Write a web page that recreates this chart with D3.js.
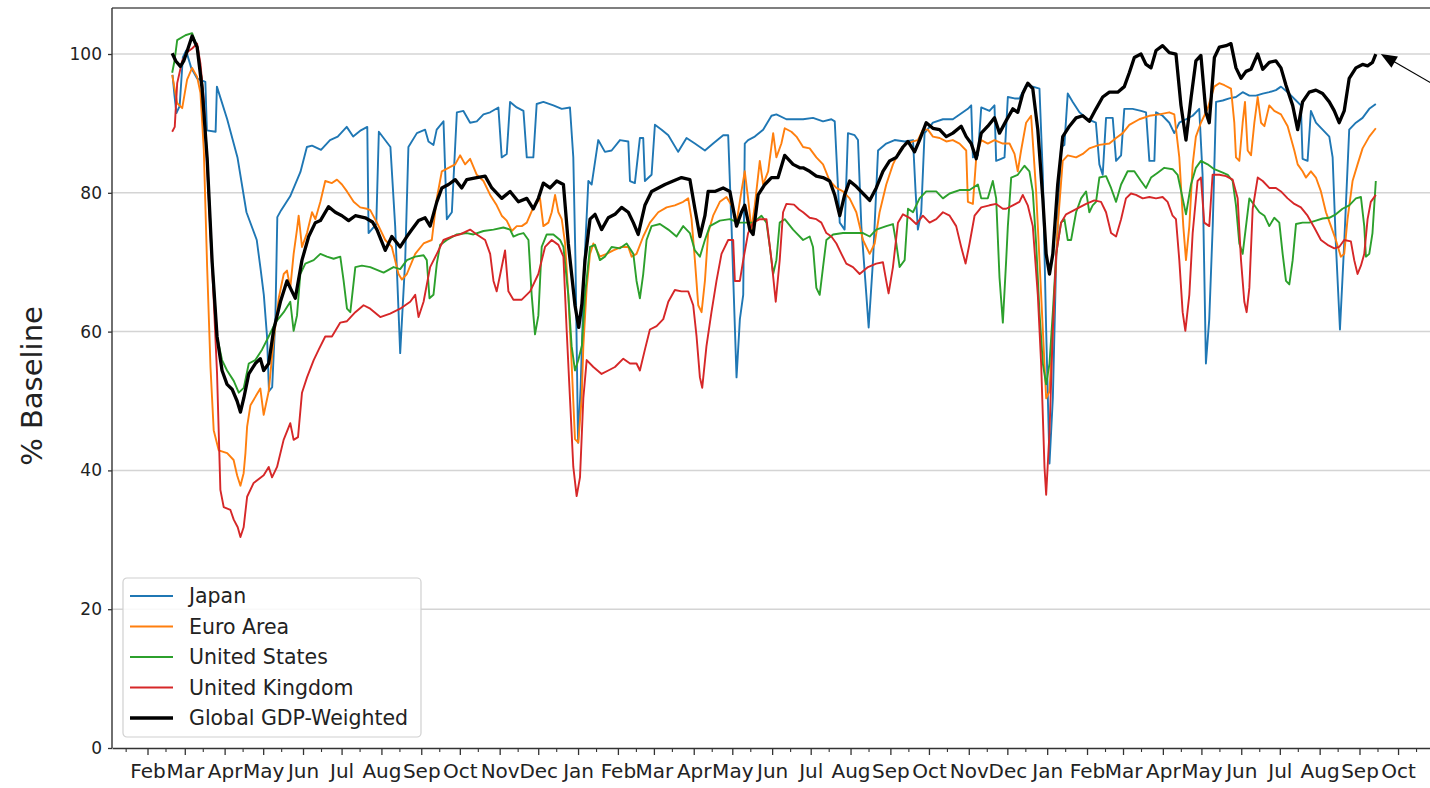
<!DOCTYPE html>
<html>
<head>
<meta charset="utf-8">
<script src="https://cdn.jsdelivr.net/npm/d3@7"></script>
<style>
  body { margin: 0; background: #fff; }
  svg { display: block; font-family: "DejaVu Sans", sans-serif; }
</style>
</head>
<body>
<div id="chart"></div>
<script>
// each point is [day, value]: day = days after 1 Feb 2020, value = % of baseline
var japan = [
  [19.5, 97], [21, 94], [22.5, 91.5], [25, 92.5], [27.5, 99.5], [30, 100.5], [34, 98], [38.5, 96.5], [45, 96], [46.2, 89],
  [53, 88.8], [54, 95.3], [62, 90.6], [70, 85.1], [77, 77.2], [85, 73.2], [88, 69], [90.5, 65.3], [93, 59.3], [94.5, 51.4],
  [97, 52], [99.5, 62], [101, 76.5], [104, 77.5], [111, 79.5], [119, 83], [124, 86.6], [128, 86.8], [135, 86.2], [142, 87.6],
  [148, 88.1], [155, 89.5], [160, 88.1], [166, 89], [171, 89.5], [172, 74.2], [178, 75.5], [180, 88.8], [189, 86.6], [192.7, 75.2],
  [196.6, 56.9], [200.5, 70.3], [203, 86.6], [209.6, 88.6], [216, 89.1], [218.6, 87.4], [222.5, 86.9], [225, 89.1], [230.3, 90.3], [232.9, 76.2],
  [236.8, 77.2], [240.7, 91.6], [245.8, 91.8], [251, 90.1], [256.2, 90.3], [261.4, 91.3], [266.6, 91.6], [273, 92.3], [275.6, 85.1], [279.5, 85.6],
  [282.1, 93.1], [287.3, 92.3], [292.5, 91.8], [295.1, 85.1], [300.2, 85.1], [302.8, 92.8], [308, 93.1], [315.8, 92.6], [322.3, 92.1], [328.7, 92.3],
  [331.3, 85.1], [333, 70], [335, 44], [337, 52], [340, 70], [343, 81.7], [345.6, 81.2], [350.7, 87.6], [355.9, 85.9], [361.1, 86.1],
  [367.6, 87.6], [374.1, 87.4], [375.4, 81.7], [379.2, 81.4], [383.1, 87.9], [385.7, 87.9], [387, 81.7], [392.2, 82.6], [394.8, 89.8], [400, 89.1],
  [405.2, 88.3], [412.9, 85.9], [419.4, 87.9], [425.9, 87.1], [433.7, 86.1], [440.1, 87.1], [447.9, 88.3], [451.8, 88.3], [454.4, 75.2], [458.3, 53.4],
  [460.9, 61.8], [463.5, 65.3], [464.7, 87.1], [467.3, 87.6], [472.5, 88.1], [479, 89.1], [485.5, 91.1], [489.3, 91.3], [497.1, 90.6], [503.6, 90.6],
  [510.1, 90.6], [517.8, 90.8], [525.6, 90.3], [532.1, 90.6], [534.7, 90.3], [538.6, 75.7], [542.4, 74.7], [545, 88.6], [550.2, 88.3], [552.8, 87.6],
  [555.4, 75.2], [559.3, 65.3], [561.1, 60.6], [564.5, 70.3], [568.4, 86.1], [574.8, 87.1], [581.3, 87.6], [589.1, 87.4], [595.6, 87.6], [597.6, 80.2],
  [599.4, 74.7], [602, 77.2], [604.6, 88.6], [611.1, 90.1], [618.9, 90.6], [626.6, 90.6], [634.4, 91.6], [638.3, 92.1], [640.9, 92.6], [642.2, 85.1],
  [646.1, 85.4], [648.7, 92.3], [655.1, 91.8], [659, 92.6], [660.3, 84.6], [664.2, 84.9], [666.8, 85.1], [669.4, 93.8], [674.6, 93.6], [678.4, 93.6],
  [683.6, 95.5], [688.8, 95.3], [694, 95], [696.6, 82.6], [699.2, 60.3], [701.8, 41], [704.4, 50.4], [707, 70.3], [710.8, 86.6], [713.4, 86.9],
  [716, 94.3], [719.9, 93.1], [725.1, 91.6], [731.4, 90.6], [737.9, 90.1], [740.6, 84.1], [743.2, 82.6], [745.8, 90.8], [751, 90.8], [753.6, 84.6],
  [757.5, 85.4], [760, 92.1], [766.5, 92.1], [773, 91.8], [776.9, 91.6], [779.5, 84.6], [783.4, 84.6], [784.7, 91.6], [789.8, 91.1], [795, 90.1],
  [798.9, 88.6], [802.8, 90.1], [808, 90.6], [813.2, 91.1], [818.3, 92.1], [820.9, 82.6], [823.5, 55.4], [826.1, 61.8], [828.8, 75.2], [831.4, 93.1],
  [836.6, 93.3], [841.7, 93.6], [846.9, 93.8], [852.1, 94.5], [857.3, 94], [862.5, 94], [867.7, 94.3], [872.8, 94.5], [878, 94.8], [881.9, 95.3],
  [887.1, 94.5], [893.6, 93.3], [897.4, 92.6], [898.7, 84.9], [902.6, 84.6], [905.2, 91.8], [909.1, 90.1], [914.3, 89.1], [919.5, 88.1], [922.1, 85.1],
  [924.6, 72.7], [927.8, 60.3], [931.1, 72.7], [935, 89.1], [940.2, 90.1], [945.4, 90.8], [950.6, 92.1], [955.7, 92.8]
];

var euroArea = [
  [19.2, 97], [23.1, 92.9], [27, 92.2], [30.8, 96.3], [34.7, 98], [38.6, 96.7], [41.2, 94.4], [43.8, 86.2], [46.4, 69.3], [49, 54.9],
  [51.5, 45.8], [55.4, 42.9], [62, 42.5], [67, 41.5], [69.7, 39.3], [72.3, 37.8], [74.8, 39.6], [76.2, 42.5], [77.5, 46.3], [80.1, 49.4],
  [85.2, 51], [87.8, 51.8], [90.4, 48], [94.3, 51.4], [98.2, 58.9], [102.1, 64.8], [106, 68.3], [108.5, 68.8], [111.1, 66.3], [113.7, 71.2],
  [116.3, 74.7], [117.6, 76.7], [120.2, 72.2], [124.1, 74.2], [128, 77.2], [130.6, 76.2], [134.5, 78.7], [138.3, 81.7], [143.5, 81.4], [147.4, 81.9],
  [151.3, 81.2], [155.2, 80.2], [160.4, 78.7], [165.5, 77.9], [170.7, 77.7], [173.3, 77.5], [178.5, 75.7], [185, 73.2], [190.1, 72.2], [195.3, 68.3],
  [197.9, 67.5], [201.8, 68.3], [208.3, 71.2], [214.8, 72.7], [221.2, 73.2], [225.1, 79.2], [229, 83.1], [234.2, 83.6], [239.4, 84.1], [243.2, 85.4],
  [247.1, 84.1], [251, 84.9], [256.2, 82.6], [261.4, 81.7], [266.6, 79.7], [271.7, 78.2], [275.6, 76.7], [279.5, 76], [283.4, 74.5], [287.3, 75.2],
  [291.2, 75.2], [295.1, 75.7], [300.2, 77.9], [305.4, 79.2], [308, 75.2], [311.9, 75.7], [314.5, 77.2], [317.1, 79.7], [319.7, 77.2], [322.3, 76.2],
  [324.9, 72.7], [327.4, 65.3], [330, 55.4], [332.6, 44.5], [335.2, 44], [337.8, 50.4], [339.1, 57.9], [341.7, 66.3], [344.3, 71.2], [346.9, 72.7],
  [352, 70.8], [357.2, 71.2], [362.4, 71.7], [368.9, 72.2], [374.1, 72.2], [376.7, 70.8], [380.5, 71.2], [385.7, 73.7], [390.9, 75.7], [397.4, 77.2],
  [403.9, 77.9], [410.3, 78.2], [416.8, 78.7], [420.7, 79.2], [423.3, 76.2], [425.9, 70.3], [428.5, 63.8], [431.1, 62.8], [433.7, 67.3], [436.2, 74.2],
  [440.1, 76.7], [445.3, 78.7], [450.5, 79.4], [454.4, 78.2], [458.3, 75.7], [462.1, 80.2], [464.7, 83.1], [467.3, 79.2], [469.9, 74.7], [472.5, 78.2],
  [476.4, 84.6], [479, 81.2], [482.9, 83.1], [486.8, 88.6], [489.3, 85.1], [493.2, 87.1], [495.8, 89.3], [501, 88.8], [504.9, 88.1], [510.1, 86.6],
  [515.2, 86.4], [520.4, 85.1], [525.6, 84.1], [530.8, 81.7], [536, 80.7], [541.1, 80.2], [546.3, 79.2], [551.5, 77.2], [556.7, 73.2], [561.9, 71.2],
  [565.8, 72.7], [569.6, 77.2], [574.8, 81.2], [580, 84.1], [585.2, 86.1], [590.4, 87.1], [595.6, 87.4], [599.4, 87.6], [603.3, 89.1], [607.2, 89.1],
  [611.1, 88.1], [616.3, 87.9], [621.5, 87.4], [626.6, 87.6], [631.8, 87.1], [637, 86.1], [638.3, 78.7], [642.2, 78.4], [644.8, 85.1], [648.7, 87.6],
  [653.8, 87.1], [659, 87.6], [665.5, 87.1], [670.7, 87.1], [674.6, 85.6], [677.1, 83.1], [679.7, 86.1], [683.6, 90.1], [687.5, 91.1], [691.4, 80.2],
  [694, 70.3], [696.6, 60.3], [699.2, 50.4], [701.8, 51.4], [704.4, 60.3], [708.2, 75.2], [712.1, 84.6], [716, 85.4], [722.5, 85.1], [727.7, 85.6],
  [732.8, 86.4], [740.6, 86.9], [748.4, 87.1], [753.6, 87.9], [758.8, 88.6], [763.9, 89.8], [771.7, 90.6], [779.5, 91.1], [787.3, 91.3], [795, 91.6],
  [798.9, 91.3], [802.8, 85.1], [805.9, 75.2], [808, 70.3], [810.6, 75.2], [813.2, 84.1], [815.7, 88.1], [819.6, 90.1], [824.8, 92.1], [830, 95.3],
  [833.9, 95.8], [837.9, 95.5], [843, 95], [845.6, 90.1], [846.9, 85.1], [849.5, 84.6], [852.1, 90.1], [853.9, 93.1], [856, 86.1], [858.6, 85.4],
  [861.2, 90.1], [863.8, 93.8], [866.4, 90.1], [869, 89.6], [872.8, 92.6], [876.7, 91.8], [881.9, 91.3], [887.1, 89.6], [892.3, 86.1], [894.9, 84.1],
  [898.7, 83.1], [901.3, 82.2], [905.2, 83.1], [909.1, 82.2], [913, 80.2], [916.9, 77.2], [920.8, 75.2], [924.6, 73.2], [928.5, 70.8], [931.1, 71.2],
  [933.7, 76.2], [937.6, 81.7], [941.5, 84.1], [945.4, 86.4], [950.6, 88.1], [955.7, 89.3]
];

var unitedStates = [
  [19.2, 97.3], [21, 99], [23.1, 102], [29.5, 102.7], [34.7, 103], [38.6, 101], [42.5, 96], [46.4, 85.1], [50.3, 70.3], [54.1, 59.3],
  [58, 55.9], [61.9, 54.4], [67.1, 52.9], [71, 51.2], [74.9, 51.9], [78.8, 55.4], [83.9, 55.9], [89.1, 57.4], [94.3, 59.3], [99.5, 61.3],
  [106, 62.8], [111.1, 64.3], [113.7, 60.1], [116.3, 62.3], [118.9, 68.3], [122.8, 69.8], [129.3, 70.3], [134.5, 71.2], [139.6, 70.8], [144.8, 70.5],
  [150, 70.8], [152.6, 67.3], [155.2, 63.3], [157.8, 62.8], [161.7, 69.3], [166.8, 69.5], [173.3, 69.3], [183.7, 68.5], [191.4, 69.3], [196.6, 69],
  [201.8, 70.3], [208.3, 70.8], [214.8, 71], [217.3, 70.3], [219.4, 64.8], [222.5, 65.3], [225.1, 69.8], [227.7, 72.5], [232.9, 73.2], [240.7, 74],
  [248.4, 74.2], [253.6, 74], [261.4, 74.5], [269.2, 74.7], [276.9, 75], [282.1, 74.7], [284.7, 73.7], [288.6, 74], [292.5, 74.2], [296.4, 73.2],
  [298.9, 65.3], [301.5, 59.6], [304.1, 62.3], [306.7, 72.2], [310.6, 74], [315.8, 74], [321, 73.2], [323.6, 72.2], [327.4, 65.3], [330, 57.9],
  [332.6, 54.4], [335.2, 55.9], [338, 58], [340.4, 65.3], [344.3, 72.2], [348.2, 72.5], [352, 70.3], [355.9, 70.8], [361.1, 72.2], [367.6, 72],
  [372.8, 72.7], [378, 71.2], [380.5, 67.3], [383.1, 64.8], [385.7, 68.3], [388.3, 73.2], [392.2, 75.2], [398.7, 75.5], [405.2, 74.7], [411.6, 73.7],
  [416.8, 75.2], [422, 74.2], [425.9, 71.7], [429.8, 70.8], [433.7, 73.2], [437.5, 75.2], [445.3, 76], [453.1, 76.2], [459.6, 75.7], [466, 75.7],
  [471.2, 75.7], [477.7, 76.7], [481.6, 75.7], [484.2, 72.2], [486.8, 68.3], [489.3, 70.3], [491.9, 75.7], [495.8, 76.2], [502.3, 74.7], [504.9, 74.2],
  [510.1, 73.2], [515.2, 73.7], [517.8, 72.2], [520.4, 66.3], [523, 65.3], [525.6, 69.3], [528.2, 73.2], [533.4, 74], [541.1, 74.2], [548.9, 74.2],
  [556.7, 74.2], [561.9, 73.7], [567, 74.7], [574.8, 75.2], [580, 75.5], [582.6, 72.7], [585.2, 69.3], [589.1, 70.3], [591.7, 77.7], [595.6, 77.2],
  [600.7, 79.2], [605.9, 80.2], [613.7, 80.2], [618.9, 79.2], [624.1, 79.9], [631.8, 80.4], [639.6, 80.4], [646.1, 81.2], [648.7, 79.2], [653.8, 79.2],
  [657.7, 81.7], [660.3, 79.2], [662.9, 67.8], [665.5, 61.3], [668.1, 70.3], [669.4, 75.2], [672, 82.2], [677.1, 82.6], [682.3, 83.9], [686.2, 83.1],
  [688.8, 80.2], [691.4, 72.7], [694, 62.8], [696.6, 55.4], [699.2, 52.4], [701.8, 55.4], [704.4, 62.8], [707, 71.2], [710.8, 75.7], [713.4, 76.2],
  [716, 73.2], [718.6, 73.2], [722.5, 77.2], [726.4, 79.2], [730.3, 80.2], [732.8, 77.2], [735.4, 78.2], [738, 78.7], [740.6, 82.2], [745.8, 82.4],
  [749.7, 80.7], [753.6, 78.7], [757.5, 81.2], [762.6, 83.1], [767.8, 83.1], [773, 81.7], [776.9, 80.7], [780.8, 82.2], [786, 82.9], [791.1, 83.6],
  [797.6, 83.4], [801.5, 82.6], [805.4, 79.2], [808, 76.9], [811.9, 81.2], [815.7, 83.6], [819.6, 84.6], [824.8, 84.1], [830, 83.4], [836.6, 82.9],
  [840.5, 82.6], [844.3, 81.7], [846.9, 78.2], [849.5, 72.7], [852.1, 71.2], [854.7, 75.2], [857.3, 79.2], [861.2, 78.2], [865.1, 77.2], [869, 76.7],
  [872.8, 75.2], [876.7, 76.4], [880.6, 75.7], [883.2, 71.2], [885.8, 67.3], [888.4, 66.8], [891, 70.3], [893.6, 75.5], [898.7, 75.7], [903.9, 75.7],
  [909.1, 76], [914.3, 76.3], [919.5, 76.4], [924.6, 76.9], [929.8, 77.7], [935, 78.2], [940.2, 79.2], [944.1, 79.4], [946.7, 75.2], [948, 70.8],
  [950.6, 71.2], [953.1, 74.2], [955.7, 81.7]
];

var unitedKingdom = [
  [19.2, 88.8], [21.2, 89.5], [23.1, 95.8], [27, 99], [31, 100.3], [34.7, 100.8], [38.6, 101.5], [41.2, 98.6], [43.8, 93.4], [47.7, 79],
  [51.5, 64.6], [54.1, 54], [56.7, 37.2], [59.3, 34.7], [64.5, 34.3], [67.1, 32.9], [70.2, 31.8], [72.3, 30.4], [74.8, 31.8], [77.5, 36.2],
  [82.6, 38.2], [90.4, 39.3], [94.3, 40.5], [96.9, 39], [100.8, 40.5], [105.9, 44.4], [111.1, 46.8], [113.7, 44.4], [117.1, 44.8], [120.2, 51.2],
  [124.1, 53.4], [129.3, 55.9], [133.2, 57.4], [138.3, 59.3], [143.5, 59.3], [150, 61.3], [155.2, 61.5], [161.7, 62.8], [168.1, 63.8], [173.3, 63.3],
  [181.1, 62.1], [188.8, 62.6], [196.6, 63.3], [204.4, 64.3], [208.3, 65.3], [210.9, 62.1], [214.8, 64.3], [219.9, 69.3], [225.1, 71.2], [230.3, 73.2],
  [236.8, 73.7], [243.2, 74], [251, 74.7], [256.2, 74], [262.7, 73.2], [266.6, 71.2], [269.2, 67.3], [271.7, 65.8], [275.6, 69.3], [278.2, 71.7],
  [280.8, 65.8], [284.7, 64.6], [291.2, 64.6], [297.7, 65.8], [304.1, 68.3], [309.3, 72.2], [314.5, 73.2], [319.7, 72.5], [323.6, 70.8], [326.1, 60.3],
  [328.7, 50.4], [331.3, 40.5], [333.9, 36.3], [336.5, 39], [339.1, 50.4], [341.7, 55.9], [346.9, 54.9], [353.3, 53.9], [358.5, 54.4], [363.7, 54.9],
  [370.2, 56.1], [375.4, 55.4], [380.5, 55.4], [383.1, 54.4], [387, 57.4], [390.9, 60.3], [396.1, 60.8], [401.3, 61.8], [405.2, 64.3], [410.3, 66],
  [415.5, 65.8], [420.7, 65.8], [424.6, 63.8], [427.2, 59.3], [429.8, 53.4], [431.6, 51.9], [434.9, 57.9], [438.8, 62.8], [442.7, 67.3], [446.6, 71.2],
  [451.8, 73.2], [455.7, 73.2], [457, 67.3], [460.9, 67.3], [463.5, 70.3], [467.3, 74.2], [471.2, 75.7], [476.4, 76.2], [481.6, 76.2], [485.5, 70.3],
  [488.8, 64.3], [491.9, 70.3], [494.5, 77.2], [497.1, 78.4], [503, 78.3], [507, 77.6], [510.1, 77.2], [515.2, 76.4], [520.4, 76.2], [524.3, 75.7],
  [528.2, 74.2], [532.1, 73.7], [536, 72.7], [539.9, 71.2], [543.7, 69.8], [548.9, 69.3], [554.1, 68.3], [560.6, 69.3], [567, 69.8], [572.2, 70],
  [574.8, 67.3], [576.6, 65.5], [580, 69.3], [583.9, 75.7], [587.8, 76.9], [592.9, 76.4], [598.1, 75.5], [603.3, 76.7], [608.5, 75.7], [613.7, 76.2],
  [618.9, 77.2], [624.1, 76.7], [629.2, 75.2], [633.1, 72.2], [636.5, 69.8], [639.6, 72.7], [643.5, 76.7], [648.7, 77.9], [655.1, 78.2], [660.3, 78.4],
  [665.5, 77.7], [668.1, 77.7], [673.3, 78.2], [678.4, 78.7], [681, 79.7], [684.9, 78.2], [688.8, 75.2], [692.7, 65.3], [695.3, 55.4], [697.9, 40.5],
  [699.2, 36.5], [701.8, 45.5], [704.4, 60.3], [707, 71.2], [710.8, 75.7], [714.7, 76.9], [719.9, 77.4], [725.1, 77.9], [730.3, 78.4], [736.7, 78.9],
  [741.9, 78.7], [745.8, 77.2], [749.7, 74.2], [753.6, 73.7], [757.5, 76.2], [761.3, 79.2], [765.2, 79.9], [769.1, 79.7], [774.3, 79.2], [779.5, 79.4],
  [784.7, 79.2], [789.8, 79.4], [793.7, 78.7], [797.6, 76.7], [800.2, 76.2], [802.8, 70.3], [805.4, 62.8], [807.5, 60.1], [810.6, 65.3], [813.2, 74.2],
  [817, 81.7], [819.6, 82.2], [822.2, 75.7], [826.1, 75.2], [828.7, 82.6], [834, 82.6], [839.2, 82.4], [844.3, 81.9], [848.2, 79.2], [850.8, 70.3],
  [853.4, 64.3], [855.2, 62.8], [857.3, 66.3], [859.9, 77.7], [863.8, 82.2], [867.7, 81.7], [872.8, 80.7], [878, 80.7], [881.9, 80.2], [887.1, 79.2],
  [892.3, 78.4], [897.4, 77.9], [902.6, 76.7], [907.8, 75], [913, 73.2], [918.1, 72.5], [923.4, 72], [927.2, 72.2], [931.1, 73.2], [936.3, 73],
  [938.9, 70.3], [941.5, 68.3], [944.1, 69.5], [946.7, 71.2], [949.3, 76.2], [951.8, 78.7], [955.7, 79.7]
];

var globalGdp = [
  [19.2, 100.1], [22, 99], [25.6, 98.2], [28.2, 99], [31, 100.5], [34.7, 102.6], [38.6, 101], [42.5, 95], [46.4, 85], [50.3, 70],
  [54.1, 59.3], [58, 54.4], [61.9, 52.4], [65.8, 51.7], [69.7, 50], [72.3, 48.4], [74.9, 50.4], [78.8, 53.9], [83.9, 55.4], [87.8, 56.1],
  [90.4, 54.4], [94.3, 55.4], [98.2, 60.3], [103.4, 64.3], [108.5, 67.3], [112.4, 65.8], [115, 64.8], [120.2, 70.3], [125.4, 73.7], [130.6, 75.7],
  [134.5, 76], [140.9, 78], [146.1, 77.2], [151.3, 76.7], [156.5, 76], [161.7, 76.7], [169.4, 76.4], [175, 75.8], [178.5, 74.7], [185, 71.7],
  [190.1, 73.7], [196.6, 72.2], [201.8, 73.7], [205.7, 74.7], [210.9, 76], [216, 76.4], [219.9, 75.2], [225.1, 78.7], [229, 80.7], [234.2, 81.2],
  [239.4, 81.9], [244.5, 80.7], [248.4, 81.9], [256.2, 82.2], [262.7, 82.4], [267.9, 80.7], [275.6, 79.2], [282.1, 80.2], [288.6, 78.7], [295.1, 79.2],
  [300.2, 77.7], [304.1, 79.2], [308, 81.4], [313.2, 80.7], [318.4, 81.7], [323.6, 81.2], [327.4, 72.7], [332.6, 63.8], [335.5, 60.6], [338, 64],
  [340.4, 70.3], [344.3, 76.2], [348.2, 76.9], [353.3, 74.7], [358.5, 76.4], [363.7, 76.9], [368.9, 77.9], [374.1, 77.2], [378, 75.7], [381.8, 74],
  [387, 78.2], [392.2, 80.2], [397.4, 80.7], [402.6, 81.2], [409, 81.7], [415.5, 82.2], [422, 81.9], [425.9, 77.7], [429.8, 73.7], [433.7, 76.7],
  [436.2, 80.2], [441.4, 80.2], [447.9, 80.7], [453.1, 80.2], [458.3, 75.2], [462.1, 77.2], [464.7, 78.2], [468.6, 74.7], [471.2, 74], [475.1, 79.7],
  [480.3, 81.2], [485.5, 82.2], [490.6, 82.2], [495.8, 85.4], [502.3, 84.1], [507.5, 83.6], [510.1, 83.6], [515.2, 83.1], [520.4, 82.4], [525.6, 82.2],
  [530.8, 81.7], [534.7, 79.7], [538.6, 76.7], [542.4, 79.7], [546.3, 81.7], [551.5, 80.9], [556.7, 79.9], [561.9, 78.9], [567, 80.7], [572.2, 83.1],
  [577.4, 84.6], [582.6, 85.1], [587.8, 86.6], [591.7, 87.4], [596.8, 85.9], [600.7, 87.6], [605.9, 90.1], [611.1, 89.3], [616.3, 89.1], [621.5, 88.1],
  [626.6, 88.6], [633.1, 89.6], [637, 88.1], [640.9, 87.1], [644.8, 84.9], [648.7, 88.6], [653.8, 89.6], [659, 90.8], [662.9, 88.6], [668.1, 90.4],
  [673.3, 92.1], [677.1, 91.6], [681, 94.3], [684.9, 95.8], [688.8, 95], [692.7, 89.1], [696.6, 79.2], [699.2, 71.2], [701.8, 68.3], [704.4, 71.2],
  [708.2, 81.2], [712.1, 88.1], [717.3, 89.6], [722.5, 90.8], [727.7, 91.1], [732.8, 90.3], [738, 92.1], [743.2, 93.8], [748.4, 94.5], [754.9, 94.5],
  [760, 95.3], [763.9, 97.3], [767.8, 99.5], [773, 100], [776.9, 98.5], [780.8, 98], [784.7, 100.5], [789.8, 101.2], [795, 100.2], [800.2, 100],
  [804.1, 92.6], [808, 87.6], [811.9, 93.6], [815.7, 99], [819.6, 99.8], [823.5, 91.6], [826.1, 90.1], [830.1, 99.5], [834, 101], [839.2, 101.2],
  [843, 101.5], [846.9, 98], [850.8, 96.5], [854.7, 97.5], [858.6, 97.8], [863.8, 100], [867.7, 97.8], [872.8, 98.8], [878, 99], [881.9, 98],
  [885.8, 95.5], [891, 92.6], [894.9, 89.1], [898.7, 93.1], [903.9, 94.5], [909.1, 94.8], [914.3, 94.3], [919.5, 93.1], [923.4, 91.8], [927.2, 90.1],
  [931.1, 91.8], [935, 96.5], [940.2, 98], [945.4, 98.5], [949.3, 98.3], [953.1, 98.8], [955.7, 100]
];

var seriesNames = ["Japan", "Euro Area", "United States", "United Kingdom", "Global GDP-Weighted"];
var seriesColors = ["#1f77b4", "#ff7f0e", "#2ca02c", "#d62728", "#000000"];
var seriesWidths = [1.9, 1.9, 1.9, 1.9, 3.3];
var yTicks = [0, 20, 40, 60, 80, 100];

var start = new Date(2020, 1, 1);
function toDate(day) { return new Date(start.getTime() + day * 864e5); }

var allSeries = [japan, euroArea, unitedStates, unitedKingdom, globalGdp].map(function(s, i) {
    return {
        name: seriesNames[i], color: seriesColors[i], width: seriesWidths[i],
        values: s.map(function(d) { return {date: toDate(d[0]), value: d[1]}; })
    };
});

var width = 1430, height = 788;
var plotLeft = 112, plotRight = 1436, plotTop = 8, plotBottom = 748;

var svg = d3.select("#chart").append("svg")
    .attr("width", width)
    .attr("height", height);

// matplotlib-like 5% margins around the data
var allPts = d3.merge(allSeries.map(function(s) { return s.values; }));
var tExt = d3.extent(allPts, function(d) { return +d.date; });
var vExt = d3.extent(allPts, function(d) { return d.value; });
var tPad = (tExt[1] - tExt[0]) * 0.05;

var x = d3.scaleTime()
    .domain([new Date(tExt[0] - tPad), new Date(tExt[1] + tPad)])
    .range([plotLeft, plotRight]);
var y = d3.scaleLinear()
    .domain([0, vExt[1] + (vExt[1] - vExt[0]) * 0.05])
    .range([plotBottom, plotTop]);

// grid
svg.append("g")
    .selectAll("line")
    .data(yTicks.slice(1))
    .join("line")
    .attr("x1", plotLeft).attr("x2", plotRight)
    .attr("y1", function(d) { return y(d); }).attr("y2", function(d) { return y(d); })
    .attr("stroke", "#d4d4d4")
    .attr("stroke-width", 1.5);

// lines
var line = d3.line()
    .x(function(d) { return x(d.date); })
    .y(function(d) { return y(d.value); });

svg.append("g")
    .selectAll("path")
    .data(allSeries)
    .join("path")
    .attr("d", function(d) { return line(d.values); })
    .attr("fill", "none")
    .attr("stroke", function(d) { return d.color; })
    .attr("stroke-width", function(d) { return d.width; })
    .attr("stroke-linejoin", "round");

// spines
svg.append("line").attr("x1", plotLeft).attr("x2", plotRight).attr("y1", plotTop).attr("y2", plotTop)
    .attr("stroke", "#555").attr("stroke-width", 1.4);
svg.append("line").attr("x1", plotLeft).attr("x2", plotLeft).attr("y1", plotTop).attr("y2", plotBottom)
    .attr("stroke", "#333").attr("stroke-width", 1.4);

// x axis: month ticks plus minor ticks on the 15th
var minorTicks = x.ticks(d3.timeDay.filter(function(d) { return d.getDate() === 15; }));

svg.append("g")
    .attr("transform", "translate(0," + plotBottom + ")")
    .call(d3.axisBottom(x).tickValues(minorTicks).tickSize(4).tickFormat(""))
    .call(function(g) { g.select(".domain").remove(); })
    .selectAll("line").attr("stroke", "#333").attr("stroke-width", 1.1);

var xAxis = svg.append("g")
    .attr("transform", "translate(0," + plotBottom + ")")
    .call(d3.axisBottom(x).ticks(d3.timeMonth.every(1)).tickFormat(d3.timeFormat("%b"))
        .tickSizeInner(7).tickSizeOuter(0).tickPadding(9));
xAxis.select(".domain").attr("stroke", "#333").attr("stroke-width", 1.4);
xAxis.selectAll(".tick line").attr("stroke", "#333").attr("stroke-width", 1.3);
xAxis.selectAll("text").attr("font-size", 20).attr("fill", "#222")
    .attr("font-family", "DejaVu Sans");

// y axis
var yAxis = svg.append("g")
    .attr("transform", "translate(" + plotLeft + ",0)")
    .call(d3.axisLeft(y).tickValues(yTicks).tickSize(4).tickPadding(6));
yAxis.select(".domain").remove();
yAxis.selectAll(".tick line").attr("stroke", "#333").attr("stroke-width", 1.3);
yAxis.selectAll("text").attr("font-size", 17).attr("fill", "#222")
    .attr("font-family", "DejaVu Sans");

svg.append("text")
    .attr("transform", "translate(42," + ((plotTop + plotBottom) / 2 + 8) + ") rotate(-90)")
    .attr("text-anchor", "middle")
    .attr("font-size", 29)
    .attr("fill", "#222")
    .text("% Baseline");

// legend
var legend = svg.append("g").attr("transform", "translate(123,578)");
legend.append("rect")
    .attr("width", 298).attr("height", 159).attr("rx", 4)
    .attr("fill", "#fff").attr("fill-opacity", 0.85)
    .attr("stroke", "#d0d0d0").attr("stroke-width", 1.2);
var item = legend.selectAll("g.item")
    .data(allSeries)
    .join("g")
    .attr("class", "item")
    .attr("transform", function(d, i) { return "translate(0," + (18 + i * 30.5) + ")"; });
item.append("line")
    .attr("x1", 7).attr("x2", 50)
    .attr("stroke", function(d) { return d.color; })
    .attr("stroke-width", function(d) { return d.width; });
item.append("text")
    .attr("x", 66).attr("dy", "0.35em")
    .attr("font-size", 20.5).attr("fill", "#222")
    .text(function(d) { return d.name; });

// arrow pointing at the last global value
var last = globalGdp[globalGdp.length - 1];
var tipX = x(toDate(last[0])) + 5, tipY = y(last[1]);
var dx = 48, dy = 27.7, len = Math.sqrt(dx * dx + dy * dy);
var ux = dx / len, uy = dy / len;
svg.append("line")
    .attr("x1", tipX + ux * 14).attr("y1", tipY + uy * 14)
    .attr("x2", tipX + ux * 90).attr("y2", tipY + uy * 90)
    .attr("stroke", "#000").attr("stroke-width", 1.2);
svg.append("path")
    .attr("d", "M" + tipX + "," + tipY +
        "L" + (tipX + ux * 16 - uy * 6.5) + "," + (tipY + uy * 16 + ux * 6.5) +
        "L" + (tipX + ux * 16 + uy * 6.5) + "," + (tipY + uy * 16 - ux * 6.5) + "Z")
    .attr("fill", "#000");
</script>
</body>
</html>
